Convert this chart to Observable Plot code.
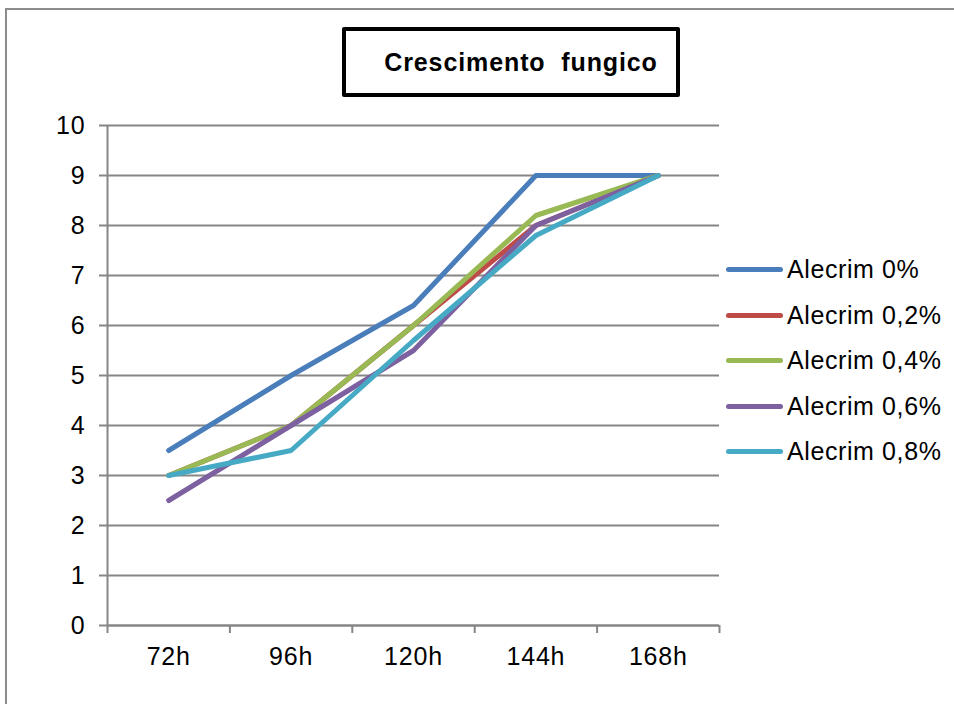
<!DOCTYPE html>
<html>
<head>
<meta charset="utf-8">
<script src="https://cdn.jsdelivr.net/npm/d3@7"></script>
<script src="https://cdn.jsdelivr.net/npm/@observablehq/plot@0.6"></script>
<style>
  html, body { margin: 0; padding: 0; background: #fff; }
  #wrap { position: relative; width: 954px; height: 704px; overflow: hidden; font-family: "Liberation Sans", Arial, sans-serif; }
  #frame { position: absolute; left: 5px; top: 8px; width: 1000px; height: 800px; border-left: 2px solid #8c8c8c; border-top: 2px solid #8c8c8c; }
  #title { position: absolute; left: 342px; top: 27px; width: 338px; height: 70px; box-sizing: border-box; border: 4px solid #000; border-radius: 2px; padding-left: 20px; display: flex; align-items: center; justify-content: center; font-weight: bold; font-size: 25px; letter-spacing: 0.9px; color: #000; white-space: pre; background: #fff; }
  #legend { position: absolute; left: 726px; top: 247px; }
  .row { display: flex; align-items: center; height: 45.5px; }
  .sw { width: 57px; height: 5px; border-radius: 3px; margin-right: 4px; }
  .lab { font-size: 25px; letter-spacing: 0.6px; color: #000; white-space: nowrap; }
  #chart { position: absolute; left: 0; top: 0; }
  #chart svg text { letter-spacing: 0.8px; }
</style>
</head>
<body>
<div id="wrap">
  <div id="chart"></div>
  <div id="frame"></div>
  <div id="title"></div>
  <div id="legend"></div>
</div>
<script>
const chartTitle = "Crescimento  fungico";
const categories = ["72h", "96h", "120h", "144h", "168h"];
const seriesNames = ["Alecrim 0%", "Alecrim 0,2%", "Alecrim 0,4%", "Alecrim 0,6%", "Alecrim 0,8%"];
const alecrim0 = [3.5, 5, 6.4, 9, 9];
const alecrim02 = [3, 4, 6, 8, 9];
const alecrim04 = [3, 4, 6, 8.2, 9];
const alecrim06 = [2.5, 4, 5.5, 8, 9];
const alecrim08 = [3, 3.5, 5.7, 7.8, 9];
const seriesColors = ["#4a7ebb", "#be4b48", "#98b954", "#7d60a0", "#46aac5"];
const yTicks = [0, 1, 2, 3, 4, 5, 6, 7, 8, 9, 10];

const seriesValues = [alecrim0, alecrim02, alecrim04, alecrim06, alecrim08];
const data = [];
seriesValues.forEach((vals, s) => {
  vals.forEach((v, i) => data.push({ series: seriesNames[s], x: i + 0.5, y: v }));
});
const centers = categories.map((_, i) => i + 0.5);
const bounds = d3.range(categories.length + 1);
const gray = "#868686";

const chart = Plot.plot({
  width: 954,
  height: 704,
  marginLeft: 107,
  marginRight: 235,
  marginTop: 125,
  marginBottom: 79,
  style: { fontFamily: "'Liberation Sans', Arial, sans-serif", fontSize: "25px", color: "#000", background: "transparent" },
  x: { domain: [0, categories.length], axis: null },
  y: { domain: [0, 10], axis: null },
  color: { domain: seriesNames, range: seriesColors },
  marks: [
    Plot.gridY(yTicks, { stroke: gray, strokeOpacity: 1, strokeWidth: 2 }),
    Plot.axisY(yTicks, { tickSize: 8, tickPadding: 14, stroke: gray, strokeWidth: 2, fill: "#000", fontSize: 25, label: null, tickFormat: d => String(d) }),
    Plot.axisX(bounds, { tickSize: 8, tickFormat: () => "", stroke: gray, strokeWidth: 2, label: null }),
    Plot.axisX(centers, { tickSize: 0, tickPadding: 22, tickFormat: d => categories[Math.round(d - 0.5)], fill: "#000", fontSize: 25, label: null }),
    Plot.ruleY([0], { stroke: gray, strokeWidth: 2 }),
    Plot.ruleX([0], { stroke: gray, strokeWidth: 2 }),
    Plot.line(data, { x: "x", y: "y", z: "series", stroke: "series", strokeWidth: 5, strokeLinecap: "round", strokeLinejoin: "round" })
  ]
});
document.getElementById("chart").appendChild(chart);

document.getElementById("title").textContent = chartTitle;
const legend = document.getElementById("legend");
seriesNames.forEach((name, i) => {
  const row = document.createElement("div");
  row.className = "row";
  const sw = document.createElement("div");
  sw.className = "sw";
  sw.style.background = seriesColors[i];
  const lab = document.createElement("div");
  lab.className = "lab";
  lab.textContent = name;
  row.appendChild(sw);
  row.appendChild(lab);
  legend.appendChild(row);
});
</script>
</body>
</html>
